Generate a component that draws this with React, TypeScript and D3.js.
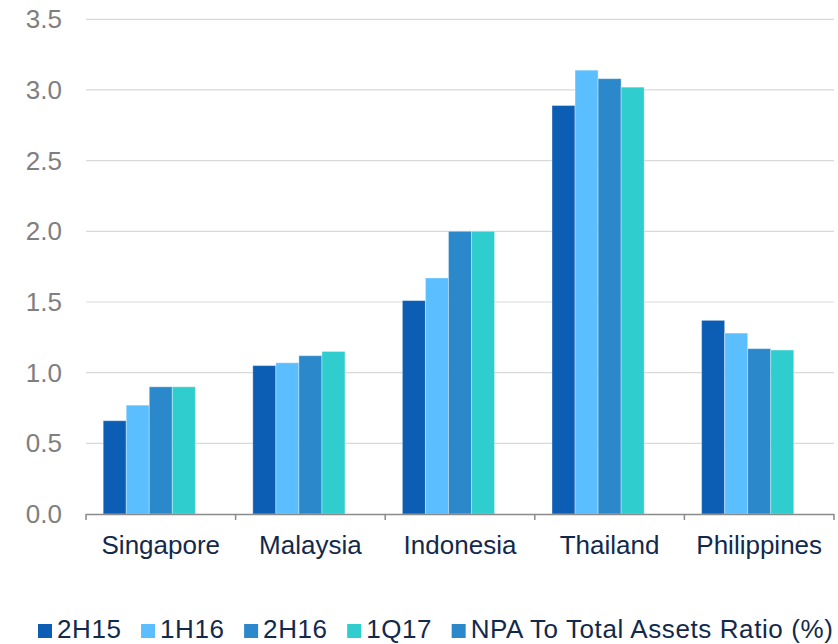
import React from "react";
import * as d3 from "d3";

const categories = ["Singapore", "Malaysia", "Indonesia", "Thailand", "Philippines"];
const seriesNames = ["2H15", "1H16", "2H16", "1Q17", "NPA To Total Assets Ratio (%)"];
const s2H15 = [0.66, 1.05, 1.51, 2.89, 1.37];
const s1H16 = [0.77, 1.07, 1.67, 3.14, 1.28];
const s2H16 = [0.90, 1.12, 2.0, 3.08, 1.17];
const s1Q17 = [0.90, 1.15, 2.0, 3.02, 1.16];
const sNPA: (number | null)[] = [null, null, null, null, null];
const yTicks = [0, 0.5, 1.0, 1.5, 2.0, 2.5, 3.0, 3.5];
const colors = ["#0b5eb4", "#5bbefe", "#2b88cb", "#2fcdcd", "#2b88cb"];

const W = 838;
const H = 644;
const FONT = "'Liberation Sans', Arial, sans-serif";

function measure(text: string, size: number): number {
  try {
    const c = document.createElement("canvas");
    const ctx = c.getContext("2d");
    if (ctx) {
      ctx.font = `${size}px 'Liberation Sans', Arial, sans-serif`;
      return ctx.measureText(text).width;
    }
  } catch (e) {}
  return text.length * size * 0.55;
}

export default function App() {
  const values = [s2H15, s1H16, s2H16, s1Q17, sNPA];
  const x0 = d3.scaleBand<string>().domain(categories).range([86, 834]).paddingInner(0.23).paddingOuter(0.115);
  const x1 = d3.scaleBand<string>().domain(seriesNames).range([0, x0.bandwidth()]);
  const y = d3.scaleLinear().domain([0, 3.5]).range([514, 19.3]);
  const step = x0.step();
  const left = x0.range()[0];
  const boundaries = d3.range(categories.length + 1).map((i) => left + i * step);

  // legend layout
  const sq = 14;
  const gapText = 5;
  const gapItem = 19.5;
  const ls = 0.6;
  let lx = 38;
  const legendItems = seriesNames.map((name, i) => {
    const w = measure(name, 26) + ls * name.length;
    const item = { name, x: lx, color: colors[i] };
    lx += sq + gapText + w + gapItem;
    return item;
  });

  return (
    <svg width={W} height={H} style={{ position: "absolute", left: 0, top: 0, background: "#fff" }} fontFamily={FONT}>
      <rect x={0} y={0} width={W} height={H} fill="#fff" />
      {yTicks.map((t) => (
        <g key={t}>
          {t > 0 && <line x1={86} x2={834} y1={y(t)} y2={y(t)} stroke="#d9d9d9" strokeWidth={1.2} />}
          <text x={62} y={y(t) + 9} textAnchor="end" fontSize={26} fill="#7f7f7f">
            {d3.format(".1f")(t)}
          </text>
        </g>
      ))}
      {categories.map((c, ci) => (
        <g key={c}>
          {values.map((arr, si) => {
            const v = arr[ci];
            if (v == null) return null;
            const bx = (x0(c) as number) + (x1(seriesNames[si]) as number);
            return (
              <rect
                key={si}
                x={bx}
                y={y(v)}
                width={x1.bandwidth()}
                height={y(0) - y(v)}
                fill={colors[si]}
                stroke="rgba(255,255,255,0.35)"
                strokeWidth={1}
              />
            );
          })}
          <text x={(x0(c) as number) + x0.bandwidth() / 2 + 0} y={554} textAnchor="middle" fontSize={26} fill="#13294b">
            {c}
          </text>
        </g>
      ))}
      <line x1={86} x2={834} y1={514.5} y2={514.5} stroke="#8a8a8a" strokeWidth={1.5} />
      {boundaries.map((b, i) => (
        <line key={i} x1={b} x2={b} y1={514} y2={520} stroke="#8a8a8a" strokeWidth={1.5} />
      ))}
      {legendItems.map((it) => (
        <g key={it.name}>
          <rect x={it.x} y={624} width={sq} height={sq} fill={it.color} />
          <text x={it.x + sq + gapText} y={638} fontSize={26} letterSpacing={ls} fill="#13294b">
            {it.name}
          </text>
        </g>
      ))}
    </svg>
  );
}
